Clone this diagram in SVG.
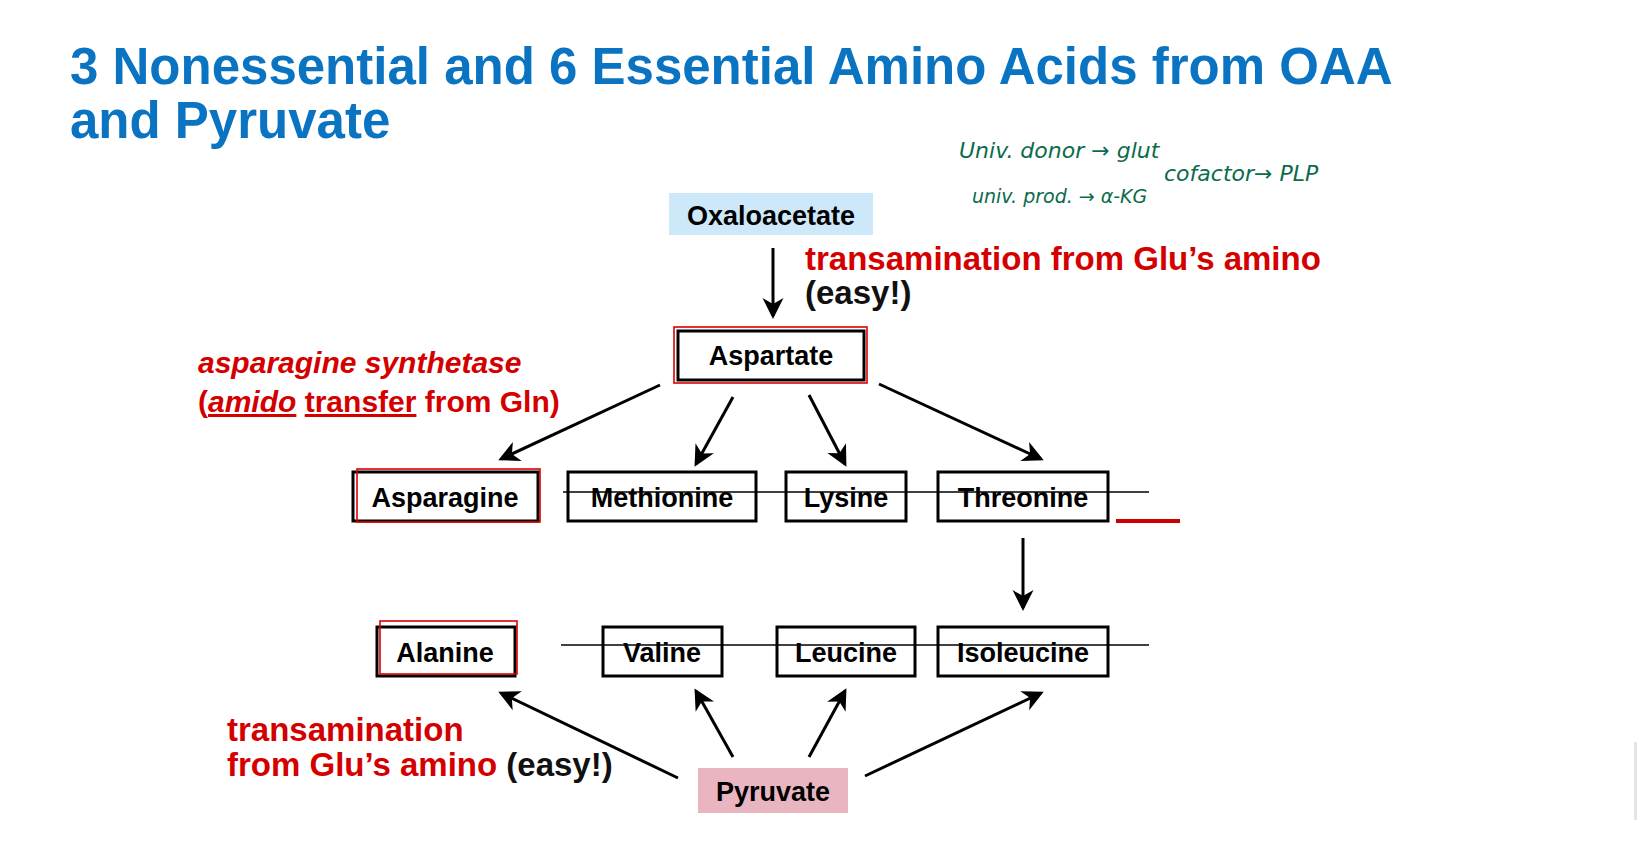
<svg xmlns="http://www.w3.org/2000/svg" width="1640" height="856" viewBox="0 0 1640 856">
<style>
.t{font-family:"Liberation Sans",Arial,sans-serif;font-weight:bold;fill:#0a73c2;font-size:51px}
.box{fill:#fff;stroke:#000;stroke-width:3}
.rb{fill:none;stroke:#d00;stroke-width:1.6}
.bt{font-family:"Liberation Sans",Arial,sans-serif;font-weight:bold;font-size:27px;text-anchor:middle;fill:#000}
.red{font-family:"Liberation Sans",Arial,sans-serif;font-weight:bold;font-size:33px;fill:#d40000}
.blk{fill:#111}
.hw{font-family:"DejaVu Sans",sans-serif;font-style:italic;font-size:22px;fill:#0b6b4b}
.c{stroke:#000;stroke-width:3;fill:none;marker-end:url(#ah)}
</style>
<defs><marker id="ah" markerWidth="8" markerHeight="8" refX="6" refY="4" orient="auto" markerUnits="strokeWidth"><path d="M0,0.5 L7,4 L0,7.5 L2,4z" fill="#000"/></marker></defs>
<rect width="1640" height="856" fill="#fff"/>
<text class="t" x="70" y="84">3 Nonessential and 6 Essential Amino Acids from OAA</text>
<text class="t" x="70" y="138">and Pyruvate</text>
<g id="notes">
<text class="hw" x="959" y="158">Univ. donor → glut</text>
<text class="hw" x="972" y="203" style="font-size:19px">univ. prod. → α-KG</text>
<text class="hw" x="1164" y="181">cofactor→ PLP</text>
</g>
<g id="connectors">
<line class="c" x1="773" y1="248" x2="773" y2="316"/>
<line class="c" x1="660" y1="385" x2="501" y2="459"/>
<line class="c" x1="733" y1="397" x2="696" y2="464"/>
<line class="c" x1="809" y1="395" x2="845" y2="464"/>
<line class="c" x1="879" y1="384" x2="1041" y2="459"/>
<line class="c" x1="1023" y1="538" x2="1023" y2="608"/>
<line class="c" x1="678" y1="778" x2="501" y2="693"/>
<line class="c" x1="733" y1="757" x2="696" y2="691"/>
<line class="c" x1="809" y1="757" x2="845" y2="691"/>
<line class="c" x1="865" y1="776" x2="1041" y2="693"/>
</g>
<g id="oaa"><rect x="669" y="193" width="204" height="42" fill="#cde8f8"/><text class="bt" x="771" y="225">Oxaloacetate</text></g>
<text class="red" x="805" y="270">transamination from Glu’s amino</text>
<text class="red blk" x="805" y="304">(easy!)</text>
<g id="asp"><rect class="box" x="678" y="331" width="186" height="49"/><rect class="rb" x="674" y="327" width="193" height="56"/><text class="bt" x="771" y="365">Aspartate</text></g>
<text class="red" x="198" y="373" style="font-size:30px;font-style:italic">asparagine synthetase</text>
<text class="red" x="198" y="412" style="font-size:30px">(<tspan font-style="italic" text-decoration="underline">amido</tspan> <tspan text-decoration="underline">transfer</tspan> from Gln)</text>
<g id="asn"><rect class="box" x="353" y="472" width="185" height="49"/><rect class="rb" x="357" y="469" width="183" height="53"/><text class="bt" x="445" y="507">Asparagine</text></g>
<g id="met"><rect class="box" x="568" y="472" width="188" height="49"/><text class="bt" x="662" y="507">Methionine</text></g>
<g id="lys"><rect class="box" x="786" y="472" width="120" height="49"/><text class="bt" x="846" y="507">Lysine</text></g>
<g id="thr"><rect class="box" x="938" y="472" width="170" height="49"/><text class="bt" x="1023" y="507">Threonine</text></g>
<line x1="563" y1="492" x2="1149" y2="492" stroke="#000" stroke-width="1.5"/>
<line x1="1116" y1="521" x2="1180" y2="521" stroke="#c00" stroke-width="4"/>
<g id="ala"><rect class="box" x="377" y="627" width="138" height="49"/><rect class="rb" x="380" y="621" width="137" height="53"/><text class="bt" x="445" y="662">Alanine</text></g>
<g id="val"><rect class="box" x="603" y="627" width="119" height="49"/><text class="bt" x="662" y="662">Valine</text></g>
<g id="leu"><rect class="box" x="777" y="627" width="138" height="49"/><text class="bt" x="846" y="662">Leucine</text></g>
<g id="ile"><rect class="box" x="938" y="627" width="170" height="49"/><text class="bt" x="1023" y="662">Isoleucine</text></g>
<line x1="561" y1="645" x2="1149" y2="645" stroke="#000" stroke-width="1.5"/>
<g id="pyr"><rect x="698" y="768" width="150" height="45" fill="#e9b5c1"/><text class="bt" x="773" y="801">Pyruvate</text></g>
<text class="red" x="227" y="741">transamination</text>
<text class="red" x="227" y="776">from Glu’s amino <tspan fill="#111">(easy!)</tspan></text>
<rect x="1634" y="742" width="3" height="78" fill="#e4e4e4"/>
</svg>
